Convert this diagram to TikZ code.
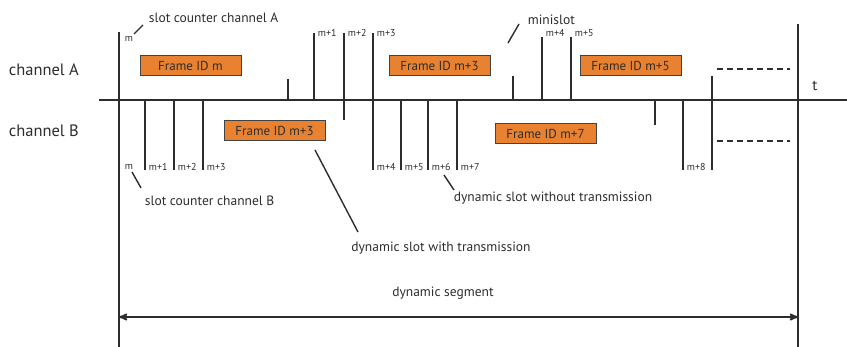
\documentclass[tikz,border=0pt]{standalone}
\usepackage{fontspec}
\setmainfont{PT Sans}
\usepackage{xcolor}
\usepackage{tikz}
\usetikzlibrary{arrows}

\definecolor{frameorange}{RGB}{232,130,48}
\definecolor{inkgray}{RGB}{45,45,45}

\begin{document}
\begin{tikzpicture}[x=1pt,y=-1pt,>=stealth',
    line width=1.8pt,
    color=inkgray,
    frame/.style={rectangle,
          draw=inkgray!90,
          line width=1pt,
          fill = frameorange,
          minimum width = 101pt,
          minimum height = 20pt,
          inner sep=0pt,
          font=\fontsize{13}{14}\selectfont},
    slotlbl/.style={anchor=west,inner sep=1pt,font=\fontsize{10}{11}\selectfont},
    note/.style={inner sep=1pt,font=\fontsize{13.5}{15}\selectfont},
    chan/.style={anchor=west,inner sep=0pt,font=\fontsize{16.5}{18}\selectfont}
    ]

    \useasboundingbox (0,0) rectangle (847,347);

    % channel names
    \node[chan] (chA) at (8,70) {channel A};
    \node[chan] (chB) at (8,131) {channel B};

    % time axis and segment borders
    \coordinate (axL) at (99,100);
    \coordinate (axR) at (847,100);
    \draw (axL) -- (axR);
    \node[note,font=\fontsize{15}{16}\selectfont] (t) at (815,86) {t};

    \coordinate (segLtop) at (119,32);
    \coordinate (segLbot) at (119,347);
    \coordinate (segRtop) at (798,24);
    \coordinate (segRbot) at (798,347);
    \draw (segLtop) -- (segLbot);
    \draw (segRtop) -- (segRbot);

    % channel A slots
    \coordinate (a1) at (314,33);
    \coordinate (a2) at (344,33);
    \coordinate (a3) at (373,33);
    \coordinate (a4) at (542,37);
    \coordinate (a5) at (571,37);
    \draw (a1) -- (314,100);
    \draw (a2) -- (344,120);
    \draw (a3) -- (373,170);
    \draw (a4) -- (542,100);
    \draw (a5) -- (571,100);
    % minislots
    \coordinate (ms1) at (288,79);
    \coordinate (ms2) at (513,76);
    \coordinate (ms3) at (655,125);
    \draw (ms1) -- (288,100);
    \draw (ms2) -- (513,100);
    \draw (655,100) -- (ms3);
    \coordinate (ms4) at (712,76);
    \draw (ms4) -- (712,170);

    % channel B slots
    \coordinate (b1) at (145,170);
    \coordinate (b2) at (174,170);
    \coordinate (b3) at (203,170);
    \coordinate (b5) at (401,170);
    \coordinate (b6) at (428,170);
    \coordinate (b7) at (457,170);
    \coordinate (b8) at (683,170);
    \draw (145,100) -- (b1);
    \draw (174,100) -- (b2);
    \draw (203,100) -- (b3);
    \draw (401,100) -- (b5);
    \draw (428,100) -- (b6);
    \draw (457,100) -- (b7);
    \draw (683,100) -- (b8);

    % slot counters
    \node[slotlbl] (lAm) at (123,39) {m};
    \node[slotlbl] (lA1) at (316,33) {m+1};
    \node[slotlbl] (lA2) at (346,33) {m+2};
    \node[slotlbl] (lA3) at (375,33) {m+3};
    \node[slotlbl] (lA4) at (544,33) {m+4};
    \node[slotlbl] (lA5) at (573,33) {m+5};

    \node[slotlbl] (lBm) at (123,167) {m};
    \node[slotlbl] (lB1) at (147,167) {m+1};
    \node[slotlbl] (lB2) at (176,167) {m+2};
    \node[slotlbl] (lB3) at (205,167) {m+3};
    \node[slotlbl] (lB4) at (375,167) {m+4};
    \node[slotlbl] (lB5) at (403,167) {m+5};
    \node[slotlbl] (lB6) at (430,167) {m+6};
    \node[slotlbl] (lB7) at (459,167) {m+7};
    \node[slotlbl] (lB8) at (685,167) {m+8};

    % frames
    \node[frame] (fA1) at (190.5,66) {Frame ID m};
    \node[frame] (fA2) at (439.5,66) {Frame ID m+3};
    \node[frame] (fA3) at (630.5,66) {Frame ID m+5};
    \node[frame] (fB1) at (274.5,131) {Frame ID m+3};
    \node[frame] (fB2) at (545.5,134) {Frame ID m+7};

    % continuation
    \draw[dashed,dash pattern=on 6pt off 4pt] (717,69) -- (790,69);
    \draw[dashed,dash pattern=on 6pt off 4pt] (717,141) -- (790,141);

    % annotations
    \node[note,anchor=west] (cntA) at (147,18) {slot counter channel A};
    \node[note,anchor=west] (mini) at (526,20) {minislot};
    \node[note,anchor=west] (cntB) at (143,201) {slot counter channel B};
    \node[note,anchor=west] (noTx) at (452,198) {dynamic slot without transmission};
    \node[note] (withTx) at (441,248) {dynamic slot with transmission};
    \node[note] (seg) at (443,293) {dynamic segment};

    \coordinate (pA) at (134,34);
    \coordinate (pMini) at (508,43);
    \coordinate (pB) at (132,172);
    \coordinate (pNo) at (444,175);
    \coordinate (pWith) at (315,150);
    \draw[line width=1.4pt] (pA) -- (143,25);
    \draw[line width=1.4pt] (pMini) -- (519,24);
    \draw[line width=1.4pt] (pB) -- (141,188);
    \draw[line width=1.4pt] (pNo) -- (454,190);
    \draw[line width=1.4pt] (pWith) -- (358,232);

    % segment length
    \draw[<->] (segLbot |- 0,317) -- (segRbot |- 0,317);

\end{tikzpicture}
\end{document}
